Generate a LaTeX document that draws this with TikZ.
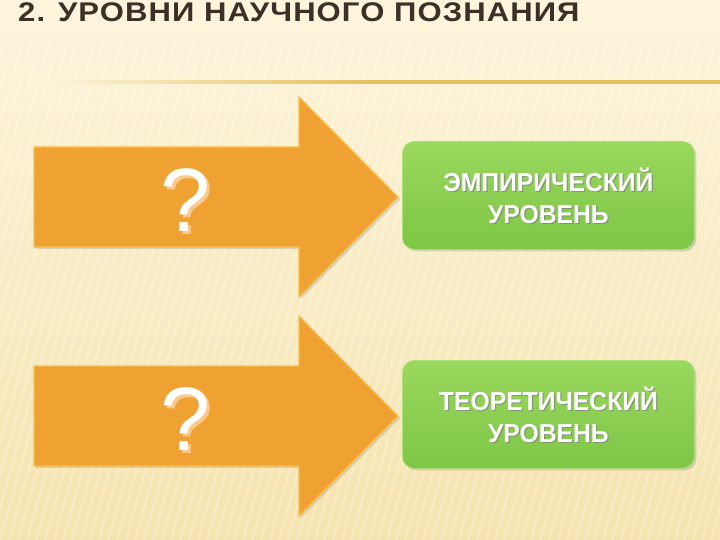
\documentclass[tikz,border=0pt]{standalone}
\usepackage{fontspec}
\setmainfont{Liberation Sans}
\newfontfamily\titlefont[FakeStretch=1.15,LetterSpace=4]{Liberation Sans}
\newfontfamily\boxfont[FakeStretch=0.95]{Liberation Sans}
\usetikzlibrary{shadows}
\definecolor{bgtop}{HTML}{FCF5DC}
\definecolor{bgbot}{HTML}{F6E4B0}
\definecolor{orangeA}{HTML}{EFA232}
\definecolor{orangeB}{HTML}{F7BE52}
\definecolor{greenT}{HTML}{9AD85E}
\definecolor{greenB}{HTML}{7EC646}
\definecolor{titlecol}{HTML}{3B3129}
\definecolor{linecol}{HTML}{E6BE5A}
\tikzset{
  arrowshape/.style={fill=orangeA, draw=orangeB, line width=1.2pt, drop shadow={shadow xshift=2pt, shadow yshift=-2pt, opacity=0.25}},
  levelbox/.style={rounded corners=12pt, top color=greenT, bottom color=greenB, draw=greenT!80!white, line width=0.8pt,
    minimum width=292pt, minimum height=108pt, inner sep=0pt, anchor=north west,
    drop shadow={shadow xshift=2pt, shadow yshift=-2pt, opacity=0.3}},
  qmark/.style={font=\fontsize{90}{90}\selectfont, text=white, inner sep=0pt},
  qshadow/.style={font=\fontsize{90}{90}\selectfont, text=orange!35!white, opacity=0.8, inner sep=0pt},
  boxtext/.style={font=\boxfont\bfseries\fontsize{26}{32}\selectfont, text=white, align=center, inner sep=0pt},
  boxshadow/.style={font=\boxfont\bfseries\fontsize{26}{32}\selectfont, text=black!50, opacity=0.7, align=center, inner sep=0pt},
}
\begin{document}
\begin{tikzpicture}[x=1pt,y=-1pt]
\useasboundingbox (0,0) rectangle (720,540);
% background
\shade[top color=bgtop, bottom color=bgbot] (0,0) rectangle (720,540);
\foreach \i in {-540,-531,...,720} {
  \draw[white, opacity=0.3, line width=1.5pt] (\i,540) -- (\i+140,40);
}
\fill[bgtop, opacity=0.6] (0,0) rectangle (720,40);
% title
\node[anchor=north west, inner sep=0pt, font=\titlefont\bfseries\fontsize{27}{27}\selectfont, text=titlecol] (title) at (18,2) {2. УРОВНИ НАУЧНОГО ПОЗНАНИЯ};
% rule
\shade[left color=bgtop, right color=linecol, middle color=linecol] (40,81) rectangle (720,83.5);
% arrow 1
\draw[arrowshape] (34,147) -- (299,147) -- (299,97) -- (398,197) -- (299,297) -- (299,247) -- (34,247) -- cycle;
\node[qshadow] at (189,203) {?};
\node[qmark] (q1) at (186,200) {?};
% arrow 2
\draw[arrowshape] (34,366) -- (299,366) -- (299,316) -- (398,416) -- (299,516) -- (299,466) -- (34,466) -- cycle;
\node[qshadow] at (189,422) {?};
\node[qmark] (q2) at (186,419) {?};
% green boxes
\node[levelbox] (emp) at (402,141) {};
\node[boxshadow] at ([xshift=1.2pt,yshift=-1.2pt]emp.center) {ЭМПИРИЧЕСКИЙ\\УРОВЕНЬ};
\node[boxtext] at (emp.center) {ЭМПИРИЧЕСКИЙ\\УРОВЕНЬ};
\node[levelbox] (teo) at (402,360) {};
\node[boxshadow] at ([xshift=1.2pt,yshift=-1.2pt]teo.center) {ТЕОРЕТИЧЕСКИЙ\\УРОВЕНЬ};
\node[boxtext] at (teo.center) {ТЕОРЕТИЧЕСКИЙ\\УРОВЕНЬ};
\end{tikzpicture}
\end{document}
